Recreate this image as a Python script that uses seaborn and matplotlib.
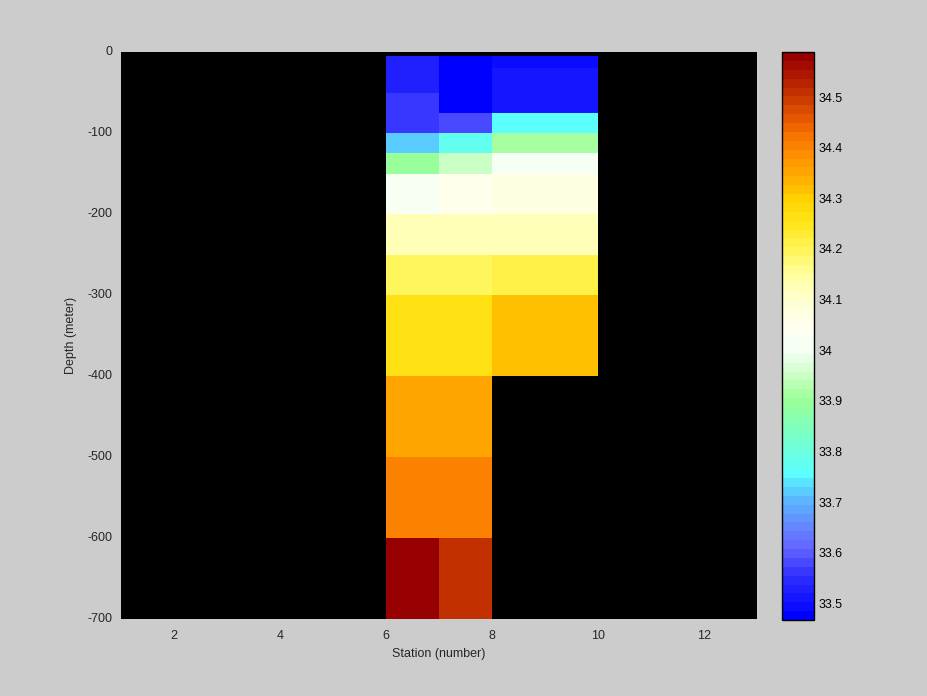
import numpy as np
import matplotlib
matplotlib.use("Agg")
import matplotlib.pyplot as plt
import seaborn as sns
from matplotlib.colors import LinearSegmentedColormap, ListedColormap

# station edges of the columns with data (left edge, right edge)
station_edges = [6, 7, 8, 10]
# depth interval edges (meters, negative down)
depth_edges = [-5, -20, -50, -75, -100, -125, -150, -200, -250, -300, -400, -500, -600, -700]

# salinity per depth interval, one list per column
sal_col1 = [33.53, 33.53, 33.555, 33.555, 33.72, 33.90, 34.02, 34.13, 34.20, 34.27, 34.345, 34.41, 34.58]
sal_col2 = [33.47, 33.47, 33.47, 33.58, 33.78, 33.95, 34.06, 34.13, 34.20, 34.27, 34.345, 34.41, 34.505]
sal_col3 = [33.49, 33.51, 33.51, 33.755, 33.92, 34.01, 34.08, 34.13, 34.21, 34.32, np.nan, np.nan, np.nan]

vmin, vmax = 33.467, 34.589
cbar_ticks = [33.5, 33.6, 33.7, 33.8, 33.9, 34.0, 34.1, 34.2, 34.3, 34.4, 34.5]
cbar_labels = ["33.5", "33.6", "33.7", "33.8", "33.9", "34", "34.1", "34.2", "34.3", "34.4", "34.5"]
x_ticks = [2, 4, 6, 8, 10, 12]
y_ticks = [0, -100, -200, -300, -400, -500, -600, -700]

# colormap anchors (value, colour)
anchors = [
    (33.467, (0, 0, 255)), (33.50, (20, 20, 255)), (33.55, (50, 50, 255)),
    (33.60, (100, 100, 255)), (33.65, (100, 140, 255)), (33.70, (90, 185, 255)),
    (33.75, (90, 255, 255)), (33.80, (110, 255, 220)), (33.85, (130, 255, 185)),
    (33.90, (155, 255, 150)), (33.95, (205, 255, 200)), (34.00, (245, 255, 245)),
    (34.05, (255, 255, 240)), (34.10, (255, 255, 210)), (34.15, (255, 255, 160)),
    (34.20, (255, 245, 90)), (34.25, (255, 230, 30)), (34.30, (255, 212, 0)),
    (34.35, (255, 172, 0)), (34.40, (255, 140, 0)), (34.45, (240, 100, 0)),
    (34.50, (205, 62, 0)), (34.55, (175, 25, 0)), (34.589, (150, 0, 0)),
]
base = LinearSegmentedColormap.from_list(
    "sal", [((v - vmin) / (vmax - vmin), tuple(c / 255 for c in col)) for v, col in anchors])
cmap = ListedColormap(base(np.linspace(0, 1, 64)))

# build a 5 m x 1 station grid from the intervals for the heatmap
dz = 5
n_rows = 700 // dz
n_cols = 12
grid = np.full((n_rows, n_cols), np.nan)
for j, col in enumerate([sal_col1, sal_col2, sal_col3]):
    c0, c1 = station_edges[j] - 1, station_edges[j + 1] - 1
    for i, val in enumerate(col):
        r0, r1 = -depth_edges[i] // dz, -depth_edges[i + 1] // dz
        grid[r0:r1, c0:c1] = val

sns.set_style("white")
plt.rcParams["font.family"] = ["Liberation Sans", "DejaVu Sans"]

fig = plt.figure(figsize=(9.28, 6.96), dpi=100, facecolor="#cccccc")
ax = fig.add_axes([121 / 928, 77 / 696, 636 / 928, 567 / 696])
cax = fig.add_axes([782 / 928, 76 / 696, 32 / 928, 568 / 696])

sns.heatmap(grid, ax=ax, cbar_ax=cax, cmap=cmap, vmin=vmin, vmax=vmax,
            mask=np.isnan(grid), cbar_kws={"ticks": cbar_ticks})
ax.set_facecolor("black")

ax.set_xticks([s - 1 for s in x_ticks])
ax.set_xticklabels([str(s) for s in x_ticks], rotation=0, fontsize=9)
ax.set_yticks([-d / dz for d in y_ticks])
ax.set_yticklabels([str(d) for d in y_ticks], rotation=0, fontsize=9)
ax.tick_params(axis="x", direction="in", length=0, pad=8)
ax.tick_params(axis="y", direction="in", length=0, pad=6)
ax.set_xlabel("Station (number)", fontsize=9, labelpad=4)
ax.set_ylabel("Depth (meter)", fontsize=9, labelpad=8)
for s in ax.spines.values():
    s.set_visible(False)

cbar = ax.collections[0].colorbar
cbar.set_ticklabels(cbar_labels)
cbar.outline.set_edgecolor("black")
cbar.outline.set_linewidth(1)
cax.tick_params(direction="in", left=True, right=True, labelleft=False, labelright=True,
                length=4, width=1, labelsize=9, colors="black", pad=3)

fig.savefig("out.png", dpi=100, facecolor=fig.get_facecolor())
